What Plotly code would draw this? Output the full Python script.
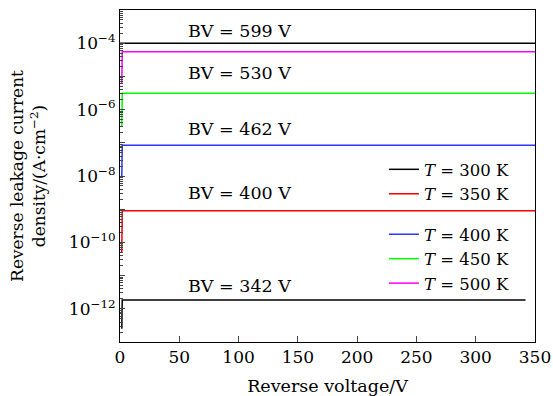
import numpy as np
import plotly.graph_objects as go

# ---- data ----
temps = ["300", "350", "400", "450", "500"]
colors = ["black", "red", "#2a35ff", "#00ff00", "#ff00ff"]
v_300 = [1.5, 1.9, 342]
j_300 = [2.5e-13, 1.85e-12, 1.85e-12]
v_350 = [1.5, 1.9, 360]
j_350 = [5e-11, 9.0e-10, 9.0e-10]
v_400 = [1.5, 1.9, 360]
j_400 = [1e-8, 8.5e-8, 8.5e-8]
v_450 = [1.5, 1.9, 360]
j_450 = [3e-7, 3.1e-6, 3.1e-6]
v_500 = [1.5, 1.9, 360]
j_500 = [6e-6, 5.5e-5, 5.5e-5]
v_top = [0, 360]
j_top = [1e-4, 1e-4]

bv_labels = ["BV = 599 V", "BV = 530 V", "BV = 462 V", "BV = 400 V", "BV = 342 V"]
bv_label_logy = [-3.63, -4.90, -6.58, -8.51, -11.31]
bv_label_x = 101

x_ticks = [0, 50, 100, 150, 200, 250, 300, 350]
y_exps = list(range(-13, -2))

FONT = "DejaVu Serif"

series_v = [v_300, v_350, v_400, v_450, v_500]
series_j = [j_300, j_350, j_400, j_450, j_500]

fig = go.Figure()
fig.add_trace(go.Scatter(x=v_top, y=j_top, mode="lines",
                         line=dict(color="black", width=1.5), showlegend=False))
for i, (t, c, v, j) in enumerate(zip(temps, colors, series_v, series_j)):
    fig.add_trace(go.Scatter(
        x=v, y=j, mode="lines", line=dict(color=c, width=1.5),
        name=f"<i>T</i> = {t} K",
        legendgroup="g1" if i < 2 else "g2"))

for txt, ly in zip(bv_labels, bv_label_logy):
    fig.add_annotation(x=bv_label_x, y=ly, xref="x", yref="y", text=txt,
                       showarrow=False, font=dict(family=FONT, size=17.5, color="black"),
                       xanchor="center", yanchor="middle")

ytext = [f"10<sup>−{-e}</sup>" if e % 2 == 0 else "" for e in y_exps]

fig.update_layout(
    width=553, height=396,
    margin=dict(l=119.5, r=17.5, t=10, b=54),
    paper_bgcolor="white", plot_bgcolor="white",
    font=dict(family=FONT, size=17, color="black"),
    showlegend=True,
    legend=dict(x=0.636, y=0.572, xanchor="left", yanchor="top",
                bgcolor="rgba(0,0,0,0)", borderwidth=0,
                traceorder="grouped", tracegroupgap=16,
                font=dict(family=FONT, size=16.5)),
    xaxis=dict(range=[0, 350], tickvals=x_ticks, ticks="inside", ticklen=6,
               showline=True, linecolor="black", linewidth=1, mirror=True,
               showgrid=False, zeroline=False, automargin=False,
               tickfont=dict(family=FONT, size=17),
               title=dict(text="Reverse voltage/V", standoff=13,
                          font=dict(family=FONT, size=17.5))),
    yaxis=dict(type="log", range=[-13, -3],
               tickvals=[10.0 ** e for e in y_exps], ticktext=ytext,
               ticks="inside", ticklen=5,
               minor=dict(ticks="inside", ticklen=3, dtick="D1", showgrid=False),
               showline=True, linecolor="black", linewidth=1, mirror=True,
               showgrid=False, zeroline=False, automargin=False,
               tickfont=dict(family=FONT, size=17),
               title=dict(text="Reverse leakage current<br>density/(A·cm<sup>−2</sup>)",
                          standoff=18, font=dict(family=FONT, size=17))),
)

fig.write_html("out.html", config={"displayModeBar": False},
               post_script="document.body.style.margin='0px';")
